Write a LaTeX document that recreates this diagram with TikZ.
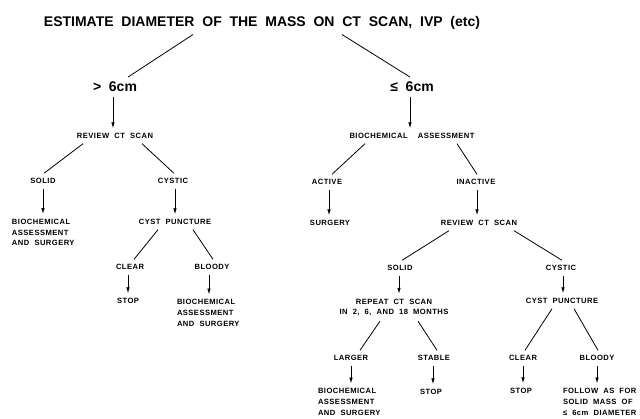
\documentclass[tikz,border=0pt]{standalone}
\usepackage{fontspec}
\usepackage{tikz}
\usetikzlibrary{arrows.meta}
\newfontfamily\flowfont[LetterSpace=6,WordSpace=2]{Liberation Sans}
\newfontfamily\headfont[WordSpace=2]{Liberation Sans}

\begin{document}
\begin{tikzpicture}[x=1pt,y=-1pt,line width=0.8pt]
\tikzstyle{every node}=[inner sep=0pt,outer sep=5pt,font=\flowfont\bfseries\fontsize{7.6}{10.8}\selectfont]
\tikzstyle{head}=[font=\headfont\bfseries\fontsize{14}{16}\selectfont]
\tikzstyle{block}=[anchor=west,align=left]
\tikzstyle{go}=[-{Latex[length=6pt,width=3.5pt]}]
\useasboundingbox (0,0) rectangle (640,418);

% top of the chart
\node[head] (title) at (262,23) {ESTIMATE DIAMETER OF THE MASS ON CT SCAN, IVP (etc)};
\node[head] (gt) at (115,87) {> 6cm};
\node[head] (le) at (412,87) {≤ 6cm};

% larger masses
\node (rev1) at (115,136) {REVIEW CT SCAN};
\node (solid1) at (43,181) {SOLID};
\node (cystic1) at (173,181) {CYSTIC};
\node[block] (bio1) at (7,232.5) {BIOCHEMICAL\\ASSESSMENT\\AND SURGERY};
\node (punct1) at (175,222) {CYST PUNCTURE};
\node (clear1) at (130,267) {CLEAR};
\node (bloody1) at (212,267) {BLOODY};
\node (stop1) at (128,301) {STOP};
\node[block] (bio2) at (172,313) {BIOCHEMICAL\\ASSESSMENT\\AND SURGERY};

% smaller masses
\node (assess) at (412,136) {BIOCHEMICAL\ \ ASSESSMENT};
\node (active) at (327,182) {ACTIVE};
\node (inactive) at (476,182) {INACTIVE};
\node (surgery) at (330,223) {SURGERY};
\node (rev2) at (479,223) {REVIEW CT SCAN};
\node (solid2) at (400,268) {SOLID};
\node (cystic2) at (561,268) {CYSTIC};
\node[align=center] (repeat) at (394,307.5) {REPEAT CT SCAN\\IN 2, 6, AND 18 MONTHS};
\node (larger) at (351,358) {LARGER};
\node (stable) at (434,358) {STABLE};
\node[block] (bio3) at (313,402) {BIOCHEMICAL\\ASSESSMENT\\AND SURGERY};
\node (stop2) at (431,392) {STOP};
\node (punct2) at (562,301) {CYST PUNCTURE};
\node (clear2) at (523,358) {CLEAR};
\node (bloody2) at (597,358) {BLOODY};
\node (stop3) at (521,391) {STOP};
\node[block] (follow) at (558,402) {FOLLOW AS FOR\\SOLID MASS OF\\≤ 6cm DIAMETER};

% split lines
\draw ([xshift=-69pt]title.south) -- ([xshift=13pt]gt.north);
\draw ([xshift=80pt]title.south) -- ([xshift=-2pt]le.north);
\draw ([xshift=-32pt]rev1.south) -- ([xshift=1pt]solid1.north);
\draw ([xshift=27pt]rev1.south) -- ([xshift=1pt]cystic1.north);
\draw ([xshift=-17pt]punct1.south) -- ([xshift=4pt]clear1.north);
\draw ([xshift=18pt]punct1.south) -- ([xshift=1pt]bloody1.north);
\draw ([xshift=-47pt]assess.south) -- ([xshift=5pt]active.north);
\draw ([xshift=45pt]assess.south) -- ([xshift=1pt]inactive.north);
\draw ([xshift=-30pt]rev2.south) -- ([xshift=2pt]solid2.north);
\draw ([xshift=35pt]rev2.south) -- ([xshift=1pt]cystic2.north);
\draw ([xshift=-14pt]repeat.south) -- ([xshift=9pt]larger.north);
\draw ([xshift=24pt]repeat.south) -- ([xshift=3pt]stable.north);
\draw ([xshift=-10pt]punct2.south) -- ([xshift=2pt]clear2.north);
\draw ([xshift=12pt]punct2.south) -- ([xshift=1pt]bloody2.north);

% arrows
\draw[go] ([xshift=-2pt]gt.south) -- ([xshift=-2pt]gt.south |- rev1.north);
\draw[go] ([xshift=-2pt]le.south) -- ([xshift=-2pt]le.south |- assess.north);
\draw[go] (solid1.south) -- (solid1.south |- bio1.north);
\draw[go] ([xshift=2pt]cystic1.south) -- ([xshift=2pt]cystic1.south |- punct1.north);
\draw[go] ([xshift=-2pt]clear1.south) -- ([xshift=-2pt]clear1.south |- stop1.north);
\draw[go] ([xshift=-3pt]bloody1.south) -- ([xshift=-3pt]bloody1.south |- bio2.north);
\draw[go] ([xshift=2pt]active.south) -- ([xshift=2pt]active.south |- surgery.north);
\draw[go] ([xshift=1pt]inactive.south) -- ([xshift=1pt]inactive.south |- rev2.north);
\draw[go] ([xshift=-1pt]solid2.south) -- ([xshift=-1pt]solid2.south |- repeat.north);
\draw[go] ([xshift=2pt]cystic2.south) -- ([xshift=2pt]cystic2.south |- punct2.north);
\draw[go] (larger.south) -- (larger.south |- bio3.north);
\draw[go] ([xshift=-1pt]stable.south) -- ([xshift=-1pt]stable.south |- stop2.north);
\draw[go] (clear2.south) -- (clear2.south |- stop3.north);
\draw[go] (bloody2.south) -- (bloody2.south |- follow.north);
\end{tikzpicture}
\end{document}
